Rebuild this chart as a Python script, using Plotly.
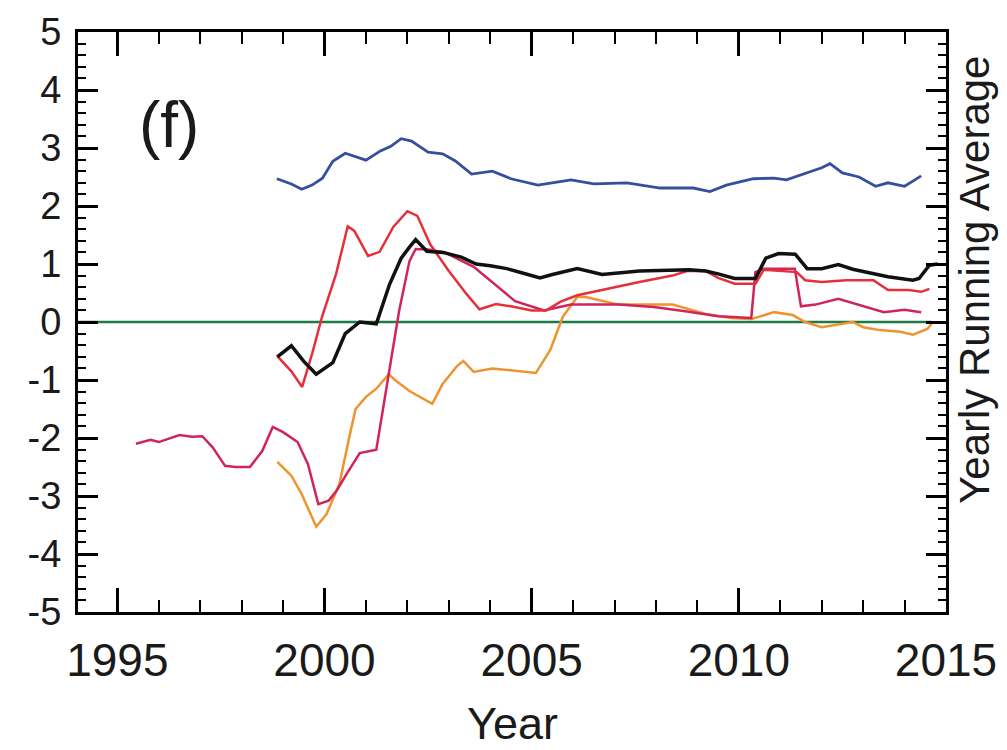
import plotly.graph_objects as go

# ---------------- data ----------------
blue_x = [1998.85, 1999.0, 1999.2, 1999.45, 1999.7, 1999.95, 2000.2, 2000.5, 2000.7, 2001.0,
          2001.35, 2001.6, 2001.85, 2002.1, 2002.5, 2002.85, 2003.15, 2003.55, 2004.05, 2004.5,
          2005.15, 2005.95, 2006.5, 2007.3, 2008.1, 2008.9, 2009.3, 2009.7, 2010.35, 2010.85,
          2011.15, 2011.65, 2012.0, 2012.2, 2012.5, 2012.9, 2013.3, 2013.6, 2014.0, 2014.2, 2014.4]
blue_y = [2.47, 2.43, 2.38, 2.29, 2.36, 2.48, 2.77, 2.91, 2.86, 2.79,
          2.95, 3.03, 3.16, 3.12, 2.93, 2.9, 2.78, 2.55, 2.6, 2.47,
          2.36, 2.45, 2.38, 2.4, 2.31, 2.31, 2.25, 2.36, 2.47, 2.48,
          2.45, 2.57, 2.66, 2.73, 2.57, 2.5, 2.34, 2.4, 2.34, 2.43, 2.52]

black_x = [1998.86, 1999.2, 1999.5, 1999.8, 2000.2, 2000.5, 2000.85, 2001.25, 2001.57, 2001.85,
           2002.05, 2002.2, 2002.47, 2002.86, 2003.3, 2003.66, 2004.0, 2004.4, 2004.8, 2005.2,
           2005.5, 2006.1, 2006.7, 2007.6, 2008.8, 2009.2, 2009.5, 2009.9, 2010.4, 2010.65,
           2010.96, 2011.36, 2011.65, 2012.0, 2012.4, 2012.75, 2013.2, 2013.6, 2014.2, 2014.35,
           2014.6, 2014.8]
black_y = [-0.6, -0.41, -0.68, -0.9, -0.7, -0.2, 0.0, -0.03, 0.65, 1.1,
           1.29, 1.42, 1.22, 1.2, 1.12, 1.0, 0.97, 0.92, 0.84, 0.76,
           0.82, 0.92, 0.82, 0.88, 0.9, 0.88, 0.83, 0.75, 0.75, 1.1,
           1.18, 1.17, 0.92, 0.92, 0.99, 0.91, 0.84, 0.78, 0.72, 0.75,
           0.98, 1.0]

red_x = [1998.86, 1999.2, 1999.46, 1999.7, 1999.94, 2000.28, 2000.56, 2000.72, 2001.05, 2001.33,
         2001.66, 2002.0, 2002.24, 2002.55, 2003.0, 2003.43, 2003.74, 2004.14, 2004.5, 2005.0,
         2005.35, 2005.7, 2006.1, 2006.8, 2007.6, 2008.4, 2008.75, 2009.2, 2009.5, 2009.9,
         2010.4, 2010.6, 2011.4, 2011.6, 2012.0, 2012.6, 2013.25, 2013.6, 2014.1, 2014.4, 2014.6]
red_y = [-0.59, -0.85, -1.12, -0.55, 0.09, 0.83, 1.65, 1.57, 1.14, 1.21,
         1.64, 1.91, 1.83, 1.34, 0.88, 0.48, 0.22, 0.31, 0.27, 0.2,
         0.2, 0.35, 0.46, 0.57, 0.69, 0.8, 0.88, 0.88, 0.76, 0.66,
         0.66, 0.9, 0.86, 0.72, 0.69, 0.72, 0.72, 0.55, 0.55, 0.52, 0.57]

crimson_x = [1995.45, 1995.8, 1996.0, 1996.5, 1996.8, 1997.05, 1997.3, 1997.6, 1997.85, 1998.2,
             1998.5, 1998.75, 1999.0, 1999.35, 1999.6, 1999.85, 2000.1, 2000.3, 2000.55, 2000.85,
             2001.25, 2001.55, 2001.8, 2002.05, 2002.2, 2002.5, 2002.9, 2003.6, 2004.1, 2004.6,
             2005.3, 2005.95, 2007.1, 2007.95, 2008.75, 2009.5, 2010.3, 2010.4, 2010.6, 2011.35,
             2011.5, 2011.85, 2012.4, 2012.9, 2013.5, 2014.0, 2014.4]
crimson_y = [-2.1, -2.03, -2.07, -1.95, -1.98, -1.97, -2.16, -2.48, -2.5, -2.5,
             -2.22, -1.81, -1.9, -2.07, -2.45, -3.14, -3.08, -2.9, -2.6, -2.26,
             -2.2, -0.9, 0.19, 1.05, 1.26, 1.25, 1.2, 0.95, 0.65, 0.36,
             0.2, 0.3, 0.3, 0.26, 0.18, 0.1, 0.07, 0.86, 0.92, 0.92,
             0.27, 0.3, 0.4, 0.29, 0.17, 0.21, 0.17]

orange_x = [1998.86, 1999.2, 1999.45, 1999.8, 2000.05, 2000.36, 2000.6, 2000.75, 2001.0, 2001.25,
            2001.55, 2001.7, 2002.05, 2002.6, 2002.85, 2003.2, 2003.35, 2003.6, 2004.05, 2004.5,
            2005.1, 2005.45, 2005.75, 2006.1, 2006.3, 2007.1, 2008.4, 2009.2, 2009.8, 2010.3,
            2010.85, 2011.3, 2011.6, 2012.0, 2012.3, 2012.75, 2013.0, 2013.4, 2013.9, 2014.2,
            2014.55, 2014.65]
orange_y = [-2.41, -2.65, -2.97, -3.53, -3.31, -2.79, -1.98, -1.5, -1.29, -1.15,
            -0.9, -1.0, -1.19, -1.41, -1.07, -0.76, -0.67, -0.86, -0.8, -0.83,
            -0.88, -0.48, 0.09, 0.43, 0.43, 0.3, 0.3, 0.14, 0.07, 0.05,
            0.17, 0.12, 0.0, -0.09, -0.05, 0.0, -0.09, -0.14, -0.17, -0.22,
            -0.12, -0.03]

zero_x = [1994.0, 2014.65]
zero_y = [0.0, 0.0]

x_ticks = [1995, 2000, 2005, 2010, 2015]
x_ticktext = ["1995", "2000", "2005", "2010", "2015"]
y_ticks = [5, 4, 3, 2, 1, 0, -1, -2, -3, -4, -5]
y_ticktext = ["5", "4", "3", "2", "1", "0", "-1", "-2", "-3", "-4", "-5"]

# ---------------- figure ----------------
FONT = "Liberation Sans, Arial, Helvetica, sans-serif"
fig = go.Figure()

fig.add_trace(go.Scatter(x=zero_x, y=zero_y, mode="lines",
                         line=dict(color="#1d7a45", width=2.5)))
fig.add_trace(go.Scatter(x=orange_x, y=orange_y, mode="lines",
                         line=dict(color="#f0922e", width=2.5)))
fig.add_trace(go.Scatter(x=crimson_x, y=crimson_y, mode="lines",
                         line=dict(color="#d0245a", width=2.5)))
fig.add_trace(go.Scatter(x=red_x, y=red_y, mode="lines",
                         line=dict(color="#e5303c", width=2.5)))
fig.add_trace(go.Scatter(x=black_x, y=black_y, mode="lines",
                         line=dict(color="#111111", width=3.5)))
fig.add_trace(go.Scatter(x=blue_x, y=blue_y, mode="lines",
                         line=dict(color="#34509c", width=2.8)))

fig.update_xaxes(
    range=[1994.05, 2015.0], automargin=False,
    tickmode="array", tickvals=x_ticks, ticktext=x_ticktext,
    ticks="inside", ticklen=24, tickwidth=2.5, tickcolor="black",
    minor=dict(dtick=1, tick0=1995, ticks="inside", ticklen=12, tickwidth=2, tickcolor="black"),
    showline=True, linewidth=3, linecolor="black", mirror="ticks",
    showgrid=False, zeroline=False,
    tickfont=dict(family=FONT, size=46, color="#1a1a1a"),
    ticklabelstandoff=6,
)
fig.update_yaxes(
    range=[-5, 5], automargin=False,
    tickmode="array", tickvals=y_ticks, ticktext=y_ticktext,
    ticks="inside", ticklen=20, tickwidth=2.5, tickcolor="black",
    minor=dict(dtick=0.2, tick0=0, ticks="inside", ticklen=8, tickwidth=2, tickcolor="black"),
    showline=True, linewidth=3, linecolor="black", mirror="ticks",
    showgrid=False, zeroline=False,
    tickfont=dict(family=FONT, size=38, color="#1a1a1a"),
    ticklabelstandoff=6,
)

fig.add_annotation(text="(f)", xref="paper", yref="paper", x=0.105, y=0.84,
                   showarrow=False, xanchor="center", yanchor="middle",
                   font=dict(family=FONT, size=64, color="#1a1a1a"))
fig.add_annotation(text="Year", xref="paper", yref="paper", x=0.501, y=-0.192,
                   showarrow=False, xanchor="center", yanchor="middle",
                   font=dict(family=FONT, size=45, color="#1a1a1a"))
fig.add_annotation(text="Yearly Running Average", xref="paper", yref="paper",
                   x=1.033, y=0.572, textangle=-90,
                   showarrow=False, xanchor="center", yanchor="middle",
                   font=dict(family=FONT, size=42, color="#1a1a1a"))

fig.update_layout(
    width=1007, height=750,
    margin=dict(l=70, r=69, t=24, b=146, autoexpand=False),
    paper_bgcolor="white", plot_bgcolor="white",
    showlegend=False,
)

fig.write_html("out.html")
